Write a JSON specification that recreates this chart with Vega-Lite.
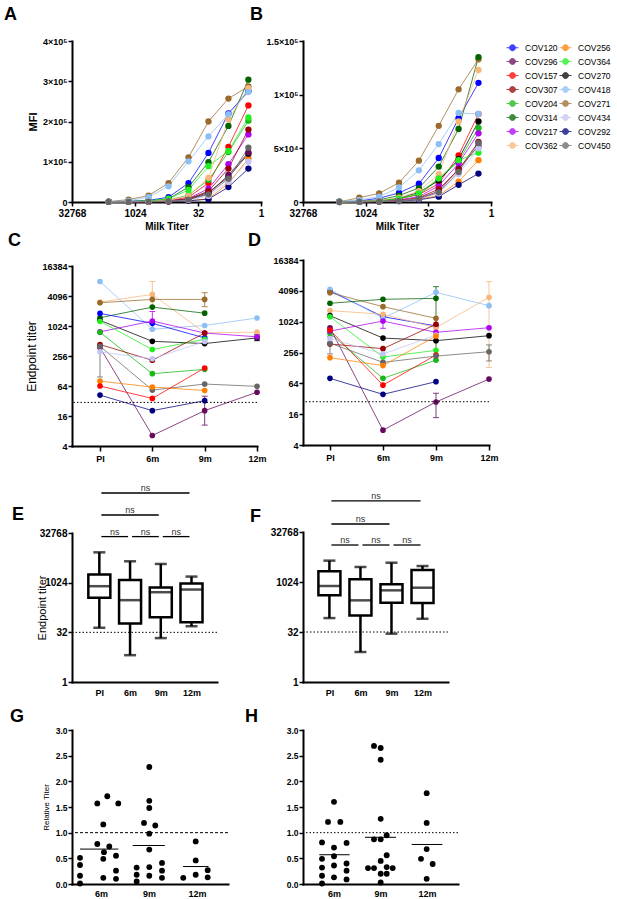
{
"$schema":"https://vega.github.io/schema/vega-lite/v6.json",
"background":"white",
"padding":{"left":4,"top":6,"right":0,"bottom":0},
"bounds":"flush",
"columns":2,
"spacing":{"row":48,"column":42},
"concat":[
   {"width":189,"height":161,"title":{"text":"A","dx":-68,"offset":13},"data":{"name":"A"},
    "encoding":{
     "x":{"field":"d","type":"quantitative","scale":{"type":"log","base":2,"domain":[1,32768],"reverse":true},"axis":{"values":[32768,1024,32,1],"format":"d","title":"Milk Titer","titleFontSize":10,"titleFontWeight":"bold","titlePadding":3,"labelFontSize":10}},
     "y":{"field":"m","type":"quantitative","scale":{"domain":[0,400000],"nice":false},"axis":{"values":[0,100000,200000,300000,400000],"labelExpr":"datum.value==0?'0':format(datum.value/100000,'d')+'×10⁵'","title":"MFI","titleFontSize":11,"titleFontWeight":"bold","titlePadding":4,"labelPadding":1}},
     "color":{"field":"id","type":"nominal",
      "scale":{"domain":["COV120","COV296","COV157","COV307","COV204","COV314","COV217","COV362","COV256","COV364","COV270","COV418","COV271","COV434","COV292","COV450"],
               "range":["#0000ff","#650a5c","#ff0000","#990000","#17b817","#006400","#b000f0","#f7b77a","#ff7f00","#22ee22","#000000","#8cbff5","#9a6a2c","#c4c4f5","#000080","#666666"]},
      "legend":{"title":null,"orient":"right","columns":2,"offset":7,"padding":0,"symbolType":"M-1,0H1M0.5,0A0.5,0.5,0,1,1,-0.5,0A0.5,0.5,0,1,1,0.5,0Z","symbolSize":144,"symbolStrokeWidth":1,"labelFont":"Liberation Sans","labelFontSize":8.5,"labelColor":"black","labelOffset":6,"rowPadding":2,"columnPadding":-1,
       "encode":{"symbols":{"update":{"fill":{"scale":"color","field":"value"},"stroke":{"scale":"color","field":"value"},"opacity":{"value":1}}}}}}
    },
    "layer":[
     {"mark":{"type":"line","strokeWidth":1,"opacity":0.75}},
     {"mark":{"type":"circle","size":40,"opacity":1}}
    ]},
   {"width":188,"height":161,"title":{"text":"B","dx":-53,"offset":13},"data":{"name":"B"},
    "encoding":{
     "x":{"field":"d","type":"quantitative","scale":{"type":"log","base":2,"domain":[1,32768],"reverse":true},"axis":{"values":[32768,1024,32,1],"format":"d","title":"Milk Titer","titleFontSize":10,"titleFontWeight":"bold","titlePadding":3,"labelFontSize":10}},
     "y":{"field":"m","type":"quantitative","scale":{"domain":[0,150000],"nice":false},"axis":{"values":[0,50000,100000,150000],"labelExpr":"datum.value==0?'0':datum.value==50000?'5×10⁴':datum.value==100000?'1×10⁵':'1.5×10⁵'","title":null,"labelPadding":1}},
     "color":{"field":"id","type":"nominal"}
    },
    "layer":[
     {"mark":{"type":"line","strokeWidth":1,"opacity":0.75}},
     {"mark":{"type":"circle","size":40,"opacity":1}}
    ]},
   {"width":185,"height":196,"title":{"text":"C","dx":-64,"offset":0},
    "layer":[
     {"data":{"name":"C"},"mark":{"type":"line","strokeWidth":1,"opacity":0.75},
      "encoding":{"x":{"field":"t","type":"quantitative","scale":{"domain":[-0.535,3],"nice":false,"zero":false},"axis":{"values":[0,1,2,3],"labelExpr":"['PI','6m','9m','12m'][datum.value]","title":null,"tickSize":5,"labelPadding":3}},
       "y":{"field":"v","type":"quantitative","scale":{"type":"log","base":2,"domain":[4,16384],"nice":false,"range":[196,16]},"axis":{"values":[4,16,64,256,1024,4096,16384],"format":"d","title":"Endpoint titer","titleFontSize":12,"titleFontWeight":"normal","titlePadding":3,"labelPadding":1}},
       "color":{"field":"id","type":"nominal"}}},
     {"data":{"name":"Cerr"},"mark":{"type":"rule","strokeWidth":1,"opacity":0.8},
      "encoding":{"x":{"field":"t","type":"quantitative"},"y":{"field":"lo","type":"quantitative"},"y2":{"field":"hi"},"color":{"field":"id","type":"nominal"}}},
     {"data":{"name":"Cerr"},"mark":{"type":"tick","orient":"horizontal","size":6,"thickness":1,"opacity":0.8},
      "encoding":{"x":{"field":"t","type":"quantitative"},"y":{"field":"hi","type":"quantitative"},"color":{"field":"id","type":"nominal"}}},
     {"data":{"name":"Cerr"},"mark":{"type":"tick","orient":"horizontal","size":6,"thickness":1,"opacity":0.8},
      "encoding":{"x":{"field":"t","type":"quantitative"},"y":{"field":"lo","type":"quantitative"},"color":{"field":"id","type":"nominal"}}},
     {"data":{"name":"C"},"mark":{"type":"circle","size":32,"opacity":1},
      "encoding":{"x":{"field":"t","type":"quantitative"},"y":{"field":"v","type":"quantitative"},"color":{"field":"id","type":"nominal"}}},
     {"data":{"values":[{"lod":30}]},"mark":{"type":"rule","color":"black","strokeWidth":1,"strokeDash":[1.5,2]},
      "encoding":{"y":{"field":"lod","type":"quantitative"}}}
    ]},
   {"width":186,"height":195,"title":{"text":"D","dx":-55,"offset":0},
    "layer":[
     {"data":{"name":"D"},"mark":{"type":"line","strokeWidth":1,"opacity":0.75},
      "encoding":{"x":{"field":"t","type":"quantitative","scale":{"domain":[-0.509,3],"nice":false,"zero":false},"axis":{"values":[0,1,2,3],"labelExpr":"['PI','6m','9m','12m'][datum.value]","title":null,"tickSize":5,"labelPadding":3}},
       "y":{"field":"v","type":"quantitative","scale":{"type":"log","base":2,"domain":[4,16384],"nice":false,"range":[195,10]},"axis":{"values":[4,16,64,256,1024,4096,16384],"format":"d","title":null,"labelPadding":1}},
       "color":{"field":"id","type":"nominal"}}},
     {"data":{"name":"Derr"},"mark":{"type":"rule","strokeWidth":1,"opacity":0.8},
      "encoding":{"x":{"field":"t","type":"quantitative"},"y":{"field":"lo","type":"quantitative"},"y2":{"field":"hi"},"color":{"field":"id","type":"nominal"}}},
     {"data":{"name":"Derr"},"mark":{"type":"tick","orient":"horizontal","size":6,"thickness":1,"opacity":0.8},
      "encoding":{"x":{"field":"t","type":"quantitative"},"y":{"field":"hi","type":"quantitative"},"color":{"field":"id","type":"nominal"}}},
     {"data":{"name":"Derr"},"mark":{"type":"tick","orient":"horizontal","size":6,"thickness":1,"opacity":0.8},
      "encoding":{"x":{"field":"t","type":"quantitative"},"y":{"field":"lo","type":"quantitative"},"color":{"field":"id","type":"nominal"}}},
     {"data":{"name":"D"},"mark":{"type":"circle","size":32,"opacity":1},
      "encoding":{"x":{"field":"t","type":"quantitative"},"y":{"field":"v","type":"quantitative"},"color":{"field":"id","type":"nominal"}}},
     {"data":{"values":[{"lod":28}]},"mark":{"type":"rule","color":"black","strokeWidth":1,"strokeDash":[1.5,2]},
      "encoding":{"y":{"field":"lod","type":"quantitative"}}}
    ]},
   {"width":145,"height":188,"title":{"text":"E","dx":-60,"offset":-40},
    "layer":[
     {"data":{"name":"E"},"mark":{"type":"rule","strokeWidth":2.5,"color":"black"},
      "encoding":{"x":{"field":"t","type":"quantitative","scale":{"domain":[-0.727,3.667],"nice":false,"zero":false},"axis":{"values":[0,1,2,3],"labelExpr":"['PI','6m','9m','12m'][datum.value]","title":null,"ticks":false,"labelPadding":6}},
       "y":{"field":"lo","type":"quantitative","scale":{"type":"log","base":2,"domain":[1,32768],"nice":false,"range":[188,39]},"axis":{"values":[1,32,1024,32768],"format":"d","title":"Endpoint titer","titleFontSize":11,"titleFontWeight":"normal","titlePadding":-8,"labelFontSize":10,"labelPadding":1}},
       "y2":{"field":"hi"}}},
     {"data":{"name":"E"},"mark":{"type":"tick","orient":"horizontal","size":12,"thickness":2.5,"color":"black"},
      "encoding":{"x":{"field":"t","type":"quantitative"},"y":{"field":"lo","type":"quantitative"}}},
     {"data":{"name":"E"},"mark":{"type":"tick","orient":"horizontal","size":12,"thickness":2.5,"color":"black"},
      "encoding":{"x":{"field":"t","type":"quantitative"},"y":{"field":"hi","type":"quantitative"}}},
     {"data":{"name":"E"},"mark":{"type":"bar","width":22,"fill":"white","stroke":"black","strokeWidth":2.5},
      "encoding":{"x":{"field":"t","type":"quantitative"},"y":{"field":"q1","type":"quantitative"},"y2":{"field":"q3"}}},
     {"data":{"name":"E"},"mark":{"type":"tick","orient":"horizontal","size":22,"thickness":2.5,"color":"black"},
      "encoding":{"x":{"field":"t","type":"quantitative"},"y":{"field":"med","type":"quantitative"}}},
     {"data":{"values":[{"lod":32}]},"mark":{"type":"rule","color":"black","strokeWidth":1,"strokeDash":[1.5,2]},
      "encoding":{"y":{"field":"lod","type":"quantitative"}}},
     {"data":{"name":"Ebr"},"mark":{"type":"rule","color":"black","strokeWidth":1.3,"xOffset":2,"x2Offset":-2},
      "encoding":{"x":{"field":"a","type":"quantitative"},"x2":{"field":"b"},"y":{"field":"y","type":"quantitative"}}},
     {"data":{"name":"Ebr"},"mark":{"type":"text","fontSize":9,"color":"#333333","font":"Liberation Sans","baseline":"alphabetic","dy":-2},
      "encoding":{"x":{"field":"m","type":"quantitative"},"y":{"field":"y","type":"quantitative"},"text":{"field":"lab"}}}
    ]},
   {"width":145,"height":188,"title":{"text":"F","dx":-53,"offset":-34},
    "layer":[
     {"data":{"name":"F"},"mark":{"type":"rule","strokeWidth":2.5,"color":"black"},
      "encoding":{"x":{"field":"t","type":"quantitative","scale":{"domain":[-0.69,3.66],"nice":false,"zero":false},"axis":{"values":[0,1,2,3],"labelExpr":"['PI','6m','9m','12m'][datum.value]","title":null,"ticks":false,"labelPadding":6}},
       "y":{"field":"lo","type":"quantitative","scale":{"type":"log","base":2,"domain":[1,32768],"nice":false,"range":[188,38]},"axis":{"values":[1,32,1024,32768],"format":"d","title":null,"labelFontSize":10,"labelPadding":1}},
       "y2":{"field":"hi"}}},
     {"data":{"name":"F"},"mark":{"type":"tick","orient":"horizontal","size":12,"thickness":2.5,"color":"black"},
      "encoding":{"x":{"field":"t","type":"quantitative"},"y":{"field":"lo","type":"quantitative"}}},
     {"data":{"name":"F"},"mark":{"type":"tick","orient":"horizontal","size":12,"thickness":2.5,"color":"black"},
      "encoding":{"x":{"field":"t","type":"quantitative"},"y":{"field":"hi","type":"quantitative"}}},
     {"data":{"name":"F"},"mark":{"type":"bar","width":22,"fill":"white","stroke":"black","strokeWidth":2.5},
      "encoding":{"x":{"field":"t","type":"quantitative"},"y":{"field":"q1","type":"quantitative"},"y2":{"field":"q3"}}},
     {"data":{"name":"F"},"mark":{"type":"tick","orient":"horizontal","size":22,"thickness":2.5,"color":"black"},
      "encoding":{"x":{"field":"t","type":"quantitative"},"y":{"field":"med","type":"quantitative"}}},
     {"data":{"values":[{"lod":32}]},"mark":{"type":"rule","color":"black","strokeWidth":1,"strokeDash":[1.5,2]},
      "encoding":{"y":{"field":"lod","type":"quantitative"}}},
     {"data":{"name":"Fbr"},"mark":{"type":"rule","color":"black","strokeWidth":1.3,"xOffset":2,"x2Offset":-2},
      "encoding":{"x":{"field":"a","type":"quantitative"},"x2":{"field":"b"},"y":{"field":"y","type":"quantitative"}}},
     {"data":{"name":"Fbr"},"mark":{"type":"text","fontSize":9,"color":"#333333","font":"Liberation Sans","baseline":"alphabetic","dy":-2},
      "encoding":{"x":{"field":"m","type":"quantitative"},"y":{"field":"y","type":"quantitative"},"text":{"field":"lab"}}}
    ]},
   {"width":156,"height":154,"title":{"text":"G","dx":-62,"offset":0},
    "layer":[
     {"data":{"name":"G"},"mark":{"type":"circle","size":34,"color":"black","opacity":1},
      "encoding":{"x":{"field":"x","type":"quantitative","scale":{"domain":[0.396,3.646],"nice":false,"zero":false},"axis":{"values":[1,2,3],"labelExpr":"datum.value==1?'6m':datum.value==2?'9m':'12m'","title":null,"ticks":false,"labelPadding":5}},
       "y":{"field":"v","type":"quantitative","scale":{"domain":[0,3],"nice":false},"axis":{"tickCount":6,"tickMinStep":0.5,"format":".1f","labelOverlap":false,"labelSeparation":0,"title":"Relative Titer","titleFontSize":8,"titleFontWeight":"normal","titlePadding":5,"labelFontSize":8.5,"labelPadding":1}}}},
     {"data":{"values":[{"ref":1}]},"mark":{"type":"rule","color":"black","strokeWidth":1,"strokeDash":[3,2]},
      "encoding":{"y":{"field":"ref","type":"quantitative"}}},
     {"data":{"name":"Gm"},"mark":{"type":"rule","color":"black","strokeWidth":1},
      "encoding":{"x":{"field":"a","type":"quantitative"},"x2":{"field":"b"},"y":{"field":"mean","type":"quantitative"}}}
    ]},
   {"width":155,"height":154,"title":{"text":"H","dx":-58,"offset":0},
    "layer":[
     {"data":{"name":"H"},"mark":{"type":"circle","size":34,"color":"black","opacity":1},
      "encoding":{"x":{"field":"x","type":"quantitative","scale":{"domain":[0.333,3.667],"nice":false,"zero":false},"axis":{"values":[1,2,3],"labelExpr":"datum.value==1?'6m':datum.value==2?'9m':'12m'","title":null,"ticks":false,"labelPadding":5}},
       "y":{"field":"v","type":"quantitative","scale":{"domain":[0,3],"nice":false},"axis":{"tickCount":6,"tickMinStep":0.5,"format":".1f","labelOverlap":false,"labelSeparation":0,"title":null,"labelFontSize":8.5,"labelPadding":1}}}},
     {"data":{"values":[{"ref":1}]},"mark":{"type":"rule","color":"black","strokeWidth":1,"strokeDash":[1.5,2]},
      "encoding":{"y":{"field":"ref","type":"quantitative"}}},
     {"data":{"name":"Hm"},"mark":{"type":"rule","color":"black","strokeWidth":1},
      "encoding":{"x":{"field":"a","type":"quantitative"},"x2":{"field":"b"},"y":{"field":"mean","type":"quantitative"}}}
    ]}
],
"datasets":{
"A":[
{"id":"COV120","d":4374,"m":1000},{"id":"COV120","d":1458,"m":2000},{"id":"COV120","d":486,"m":4000},{"id":"COV120","d":162,"m":12000},{"id":"COV120","d":54,"m":47000},{"id":"COV120","d":18,"m":122000},{"id":"COV120","d":6,"m":220000},{"id":"COV120","d":2,"m":276000},
{"id":"COV157","d":4374,"m":300},{"id":"COV157","d":1458,"m":500},{"id":"COV157","d":486,"m":1000},{"id":"COV157","d":162,"m":3000},{"id":"COV157","d":54,"m":12000},{"id":"COV157","d":18,"m":47000},{"id":"COV157","d":6,"m":137000},{"id":"COV157","d":2,"m":240000},
{"id":"COV204","d":4374,"m":300},{"id":"COV204","d":1458,"m":1000},{"id":"COV204","d":486,"m":2000},{"id":"COV204","d":162,"m":5000},{"id":"COV204","d":54,"m":17000},{"id":"COV204","d":18,"m":55000},{"id":"COV204","d":6,"m":124000},{"id":"COV204","d":2,"m":202000},
{"id":"COV217","d":4374,"m":200},{"id":"COV217","d":1458,"m":500},{"id":"COV217","d":486,"m":1000},{"id":"COV217","d":162,"m":2000},{"id":"COV217","d":54,"m":9000},{"id":"COV217","d":18,"m":33000},{"id":"COV217","d":6,"m":94000},{"id":"COV217","d":2,"m":168000},
{"id":"COV256","d":4374,"m":100},{"id":"COV256","d":1458,"m":300},{"id":"COV256","d":486,"m":500},{"id":"COV256","d":162,"m":1000},{"id":"COV256","d":54,"m":3000},{"id":"COV256","d":18,"m":8000},{"id":"COV256","d":6,"m":46000},{"id":"COV256","d":2,"m":108000},
{"id":"COV270","d":4374,"m":200},{"id":"COV270","d":1458,"m":500},{"id":"COV270","d":486,"m":1000},{"id":"COV270","d":162,"m":2000},{"id":"COV270","d":54,"m":7000},{"id":"COV270","d":18,"m":24000},{"id":"COV270","d":6,"m":62000},{"id":"COV270","d":2,"m":120000},
{"id":"COV271","d":4374,"m":1000},{"id":"COV271","d":1458,"m":6000},{"id":"COV271","d":486,"m":16000},{"id":"COV271","d":162,"m":47000},{"id":"COV271","d":54,"m":111000},{"id":"COV271","d":18,"m":200000},{"id":"COV271","d":6,"m":257000},{"id":"COV271","d":2,"m":287000},
{"id":"COV292","d":4374,"m":100},{"id":"COV292","d":1458,"m":300},{"id":"COV292","d":486,"m":500},{"id":"COV292","d":162,"m":1000},{"id":"COV292","d":54,"m":3000},{"id":"COV292","d":18,"m":7000},{"id":"COV292","d":6,"m":37000},{"id":"COV292","d":2,"m":83000},
{"id":"COV296","d":4374,"m":200},{"id":"COV296","d":1458,"m":500},{"id":"COV296","d":486,"m":1000},{"id":"COV296","d":162,"m":2000},{"id":"COV296","d":54,"m":6000},{"id":"COV296","d":18,"m":21000},{"id":"COV296","d":6,"m":67000},{"id":"COV296","d":2,"m":123000},
{"id":"COV307","d":4374,"m":200},{"id":"COV307","d":1458,"m":500},{"id":"COV307","d":486,"m":1000},{"id":"COV307","d":162,"m":2000},{"id":"COV307","d":54,"m":8000},{"id":"COV307","d":18,"m":27000},{"id":"COV307","d":6,"m":83000},{"id":"COV307","d":2,"m":180000},
{"id":"COV314","d":4374,"m":500},{"id":"COV314","d":1458,"m":1000},{"id":"COV314","d":486,"m":3000},{"id":"COV314","d":162,"m":8000},{"id":"COV314","d":54,"m":37000},{"id":"COV314","d":18,"m":99000},{"id":"COV314","d":6,"m":189000},{"id":"COV314","d":2,"m":304000},
{"id":"COV362","d":4374,"m":300},{"id":"COV362","d":1458,"m":1000},{"id":"COV362","d":486,"m":2000},{"id":"COV362","d":162,"m":5000},{"id":"COV362","d":54,"m":15000},{"id":"COV362","d":18,"m":60000},{"id":"COV362","d":6,"m":205000},{"id":"COV362","d":2,"m":283000},
{"id":"COV364","d":4374,"m":500},{"id":"COV364","d":1458,"m":1000},{"id":"COV364","d":486,"m":3000},{"id":"COV364","d":162,"m":8000},{"id":"COV364","d":54,"m":30000},{"id":"COV364","d":18,"m":89000},{"id":"COV364","d":6,"m":127000},{"id":"COV364","d":2,"m":210000},
{"id":"COV418","d":4374,"m":1000},{"id":"COV418","d":1458,"m":3000},{"id":"COV418","d":486,"m":12000},{"id":"COV418","d":162,"m":39000},{"id":"COV418","d":54,"m":101000},{"id":"COV418","d":18,"m":163000},{"id":"COV418","d":6,"m":218000},{"id":"COV418","d":2,"m":273000},
{"id":"COV434","d":4374,"m":200},{"id":"COV434","d":1458,"m":500},{"id":"COV434","d":486,"m":1000},{"id":"COV434","d":162,"m":2000},{"id":"COV434","d":54,"m":5000},{"id":"COV434","d":18,"m":15000},{"id":"COV434","d":6,"m":50000},{"id":"COV434","d":2,"m":100000},
{"id":"COV450","d":4374,"m":200},{"id":"COV450","d":1458,"m":500},{"id":"COV450","d":486,"m":1000},{"id":"COV450","d":162,"m":2000},{"id":"COV450","d":54,"m":6000},{"id":"COV450","d":18,"m":19000},{"id":"COV450","d":6,"m":58000},{"id":"COV450","d":2,"m":135000}
],
"B":[
{"id":"COV120","d":4374,"m":300},{"id":"COV120","d":1458,"m":1000},{"id":"COV120","d":486,"m":3500},{"id":"COV120","d":162,"m":8500},{"id":"COV120","d":54,"m":17000},{"id":"COV120","d":18,"m":41000},{"id":"COV120","d":6,"m":78000},{"id":"COV120","d":2,"m":111000},
{"id":"COV157","d":4374,"m":100},{"id":"COV157","d":1458,"m":300},{"id":"COV157","d":486,"m":1000},{"id":"COV157","d":162,"m":3000},{"id":"COV157","d":54,"m":7000},{"id":"COV157","d":18,"m":17000},{"id":"COV157","d":6,"m":43500},{"id":"COV157","d":2,"m":82000},
{"id":"COV204","d":4374,"m":100},{"id":"COV204","d":1458,"m":300},{"id":"COV204","d":486,"m":1000},{"id":"COV204","d":162,"m":3000},{"id":"COV204","d":54,"m":7000},{"id":"COV204","d":18,"m":21000},{"id":"COV204","d":6,"m":38000},{"id":"COV204","d":2,"m":69000},
{"id":"COV217","d":4374,"m":100},{"id":"COV217","d":1458,"m":200},{"id":"COV217","d":486,"m":600},{"id":"COV217","d":162,"m":2000},{"id":"COV217","d":54,"m":5000},{"id":"COV217","d":18,"m":15000},{"id":"COV217","d":6,"m":36000},{"id":"COV217","d":2,"m":64000},
{"id":"COV256","d":4374,"m":0},{"id":"COV256","d":1458,"m":100},{"id":"COV256","d":486,"m":300},{"id":"COV256","d":162,"m":1000},{"id":"COV256","d":54,"m":2500},{"id":"COV256","d":18,"m":6000},{"id":"COV256","d":6,"m":19000},{"id":"COV256","d":2,"m":39000},
{"id":"COV270","d":4374,"m":100},{"id":"COV270","d":1458,"m":300},{"id":"COV270","d":486,"m":1000},{"id":"COV270","d":162,"m":3500},{"id":"COV270","d":54,"m":9000},{"id":"COV270","d":18,"m":20000},{"id":"COV270","d":6,"m":40000},{"id":"COV270","d":2,"m":75000},
{"id":"COV271","d":4374,"m":200},{"id":"COV271","d":1458,"m":4000},{"id":"COV271","d":486,"m":8000},{"id":"COV271","d":162,"m":18000},{"id":"COV271","d":54,"m":38500},{"id":"COV271","d":18,"m":71000},{"id":"COV271","d":6,"m":105000},{"id":"COV271","d":2,"m":133000},
{"id":"COV292","d":4374,"m":0},{"id":"COV292","d":1458,"m":100},{"id":"COV292","d":486,"m":300},{"id":"COV292","d":162,"m":800},{"id":"COV292","d":54,"m":2000},{"id":"COV292","d":18,"m":5000},{"id":"COV292","d":6,"m":16000},{"id":"COV292","d":2,"m":26500},
{"id":"COV296","d":4374,"m":100},{"id":"COV296","d":1458,"m":200},{"id":"COV296","d":486,"m":500},{"id":"COV296","d":162,"m":1200},{"id":"COV296","d":54,"m":3500},{"id":"COV296","d":18,"m":10000},{"id":"COV296","d":6,"m":31000},{"id":"COV296","d":2,"m":52000},
{"id":"COV307","d":4374,"m":100},{"id":"COV307","d":1458,"m":200},{"id":"COV307","d":486,"m":500},{"id":"COV307","d":162,"m":1500},{"id":"COV307","d":54,"m":4000},{"id":"COV307","d":18,"m":12000},{"id":"COV307","d":6,"m":30000},{"id":"COV307","d":2,"m":56000},
{"id":"COV314","d":4374,"m":200},{"id":"COV314","d":1458,"m":500},{"id":"COV314","d":486,"m":2000},{"id":"COV314","d":162,"m":6000},{"id":"COV314","d":54,"m":13000},{"id":"COV314","d":18,"m":33000},{"id":"COV314","d":6,"m":68000},{"id":"COV314","d":2,"m":135000},
{"id":"COV362","d":4374,"m":200},{"id":"COV362","d":1458,"m":500},{"id":"COV362","d":486,"m":1500},{"id":"COV362","d":162,"m":4000},{"id":"COV362","d":54,"m":10000},{"id":"COV362","d":18,"m":26000},{"id":"COV362","d":6,"m":75000},{"id":"COV362","d":2,"m":123000},
{"id":"COV364","d":4374,"m":100},{"id":"COV364","d":1458,"m":300},{"id":"COV364","d":486,"m":1000},{"id":"COV364","d":162,"m":3000},{"id":"COV364","d":54,"m":8000},{"id":"COV364","d":18,"m":22000},{"id":"COV364","d":6,"m":39000},{"id":"COV364","d":2,"m":46000},
{"id":"COV418","d":4374,"m":300},{"id":"COV418","d":1458,"m":2000},{"id":"COV418","d":486,"m":5000},{"id":"COV418","d":162,"m":13500},{"id":"COV418","d":54,"m":29500},{"id":"COV418","d":18,"m":54000},{"id":"COV418","d":6,"m":83000},{"id":"COV418","d":2,"m":82000},
{"id":"COV434","d":4374,"m":100},{"id":"COV434","d":1458,"m":200},{"id":"COV434","d":486,"m":500},{"id":"COV434","d":162,"m":1000},{"id":"COV434","d":54,"m":3000},{"id":"COV434","d":18,"m":8000},{"id":"COV434","d":6,"m":26000},{"id":"COV434","d":2,"m":50000},
{"id":"COV450","d":4374,"m":100},{"id":"COV450","d":1458,"m":200},{"id":"COV450","d":486,"m":500},{"id":"COV450","d":162,"m":1000},{"id":"COV450","d":54,"m":3000},{"id":"COV450","d":18,"m":9000},{"id":"COV450","d":6,"m":28000},{"id":"COV450","d":2,"m":55000}
],
"C":[
{"id":"COV418","t":0,"v":8000},{"id":"COV418","t":1,"v":880},{"id":"COV418","t":2,"v":1050},{"id":"COV418","t":3,"v":1480},
{"id":"COV362","t":0,"v":3100},{"id":"COV362","t":1,"v":4400},{"id":"COV362","t":2,"v":750},{"id":"COV362","t":3,"v":770},
{"id":"COV271","t":0,"v":3000},{"id":"COV271","t":1,"v":3500},{"id":"COV271","t":2,"v":3500},
{"id":"COV314","t":0,"v":1500},{"id":"COV314","t":1,"v":2450},{"id":"COV314","t":2,"v":1850},
{"id":"COV120","t":0,"v":1830},{"id":"COV120","t":1,"v":1160},{"id":"COV120","t":2,"v":590},
{"id":"COV270","t":0,"v":1330},{"id":"COV270","t":1,"v":505},{"id":"COV270","t":2,"v":455},{"id":"COV270","t":3,"v":590},
{"id":"COV217","t":0,"v":780},{"id":"COV217","t":1,"v":1290},{"id":"COV217","t":2,"v":740},{"id":"COV217","t":3,"v":620},
{"id":"COV364","t":0,"v":1270},{"id":"COV364","t":1,"v":345},{"id":"COV364","t":2,"v":555},
{"id":"COV204","t":0,"v":765},{"id":"COV204","t":1,"v":113},{"id":"COV204","t":2,"v":138},
{"id":"COV307","t":0,"v":435},{"id":"COV307","t":1,"v":210},{"id":"COV307","t":2,"v":740},
{"id":"COV296","t":0,"v":380},{"id":"COV296","t":1,"v":6.5},{"id":"COV296","t":2,"v":20.5},{"id":"COV296","t":3,"v":48},
{"id":"COV450","t":0,"v":400},{"id":"COV450","t":1,"v":53},{"id":"COV450","t":2,"v":70},{"id":"COV450","t":3,"v":63},
{"id":"COV434","t":0,"v":310},{"id":"COV434","t":1,"v":225},{"id":"COV434","t":2,"v":500},
{"id":"COV256","t":0,"v":80},{"id":"COV256","t":1,"v":61},{"id":"COV256","t":2,"v":52},
{"id":"COV157","t":0,"v":64},{"id":"COV157","t":1,"v":36},{"id":"COV157","t":2,"v":147},
{"id":"COV292","t":0,"v":42},{"id":"COV292","t":1,"v":20.5},{"id":"COV292","t":2,"v":32.5}
],
"Cerr":[
{"id":"COV362","t":1,"lo":2600,"hi":8000},{"id":"COV271","t":2,"lo":2500,"hi":4770},{"id":"COV296","t":2,"lo":10.5,"hi":40},{"id":"COV450","t":0,"lo":97,"hi":420},{"id":"COV217","t":1,"lo":900,"hi":2000},{"id":"COV270","t":3,"lo":520,"hi":680}
],
"D":[
{"id":"COV120","t":0,"v":4070},{"id":"COV120","t":1,"v":1280},{"id":"COV120","t":2,"v":845},
{"id":"COV418","t":0,"v":4380},{"id":"COV418","t":1,"v":1190},{"id":"COV418","t":2,"v":3830},{"id":"COV418","t":3,"v":2100},
{"id":"COV271","t":0,"v":3770},{"id":"COV271","t":1,"v":2010},{"id":"COV271","t":2,"v":1190},
{"id":"COV314","t":0,"v":2340},{"id":"COV314","t":1,"v":2800},{"id":"COV314","t":2,"v":2920},
{"id":"COV362","t":0,"v":1680},{"id":"COV362","t":1,"v":1430},{"id":"COV362","t":2,"v":780},{"id":"COV362","t":3,"v":3060},
{"id":"COV270","t":0,"v":1340},{"id":"COV270","t":1,"v":490},{"id":"COV270","t":2,"v":436},{"id":"COV270","t":3,"v":545},
{"id":"COV364","t":0,"v":1280},{"id":"COV364","t":1,"v":209},{"id":"COV364","t":2,"v":282},
{"id":"COV204","t":0,"v":604},{"id":"COV204","t":1,"v":80},{"id":"COV204","t":2,"v":182},
{"id":"COV217","t":0,"v":671},{"id":"COV217","t":1,"v":1053},{"id":"COV217","t":2,"v":635},{"id":"COV217","t":3,"v":780},
{"id":"COV296","t":0,"v":780},{"id":"COV296","t":1,"v":7.8},{"id":"COV296","t":2,"v":27.7},{"id":"COV296","t":3,"v":77.6},
{"id":"COV307","t":0,"v":375},{"id":"COV307","t":1,"v":304},{"id":"COV307","t":2,"v":910},
{"id":"COV157","t":0,"v":704},{"id":"COV157","t":1,"v":59},{"id":"COV157","t":2,"v":229},
{"id":"COV450","t":0,"v":390},{"id":"COV450","t":1,"v":164},{"id":"COV450","t":2,"v":218},{"id":"COV450","t":3,"v":265},
{"id":"COV434","t":0,"v":480},{"id":"COV434","t":1,"v":239},{"id":"COV434","t":2,"v":561},
{"id":"COV256","t":0,"v":203},{"id":"COV256","t":1,"v":142},{"id":"COV256","t":2,"v":537},
{"id":"COV292","t":0,"v":80},{"id":"COV292","t":1,"v":39},{"id":"COV292","t":2,"v":69}
],
"Derr":[
{"id":"COV314","t":2,"lo":180,"hi":4940},{"id":"COV362","t":3,"lo":130,"hi":6200},{"id":"COV296","t":2,"lo":13.7,"hi":41},{"id":"COV450","t":3,"lo":175,"hi":360},{"id":"COV217","t":1,"lo":760,"hi":1400},{"id":"COV450","t":0,"lo":240,"hi":520}
],
"E":[
{"t":0,"lo":44,"q1":355,"med":800,"q3":1800,"hi":8500},
{"t":1,"lo":6.5,"q1":59,"med":302,"q3":1240,"hi":4550},
{"t":2,"lo":21.4,"q1":92,"med":526,"q3":728,"hi":3780},
{"t":3,"lo":49,"q1":65,"med":634,"q3":962,"hi":1565}
],
"F":[
{"t":0,"lo":84,"q1":406,"med":776,"q3":2140,"hi":4500},
{"t":1,"lo":8,"q1":101,"med":287,"q3":1230,"hi":2900},
{"t":2,"lo":28.5,"q1":244,"med":574,"q3":872,"hi":3900},
{"t":3,"lo":80,"q1":239,"med":690,"q3":2350,"hi":3100}
],
"Ebr":[
{"a":0,"b":1,"m":0.5,"y":25500,"lab":"ns"},{"a":1,"b":2,"m":1.5,"y":25500,"lab":"ns"},{"a":2,"b":3,"m":2.5,"y":25500,"lab":"ns"},{"a":0,"b":2,"m":1,"y":115000,"lab":"ns"},{"a":0,"b":3,"m":1.5,"y":535000,"lab":"ns"}
],
"Fbr":[
{"a":0,"b":1,"m":0.5,"y":13300,"lab":"ns"},{"a":1,"b":2,"m":1.5,"y":13300,"lab":"ns"},{"a":2,"b":3,"m":2.5,"y":13300,"lab":"ns"},{"a":0,"b":2,"m":1,"y":57000,"lab":"ns"},{"a":0,"b":3,"m":1.5,"y":285000,"lab":"ns"}
],
"G":[
{"x":1.131,"v":1.71},{"x":0.923,"v":1.57},{"x":1.36,"v":1.57},{"x":1.048,"v":1.16},{"x":0.923,"v":0.78},{"x":1.173,"v":0.73},{"x":0.563,"v":0.51},{"x":1.062,"v":0.62},{"x":1.313,"v":0.55},{"x":1.048,"v":0.49},{"x":0.563,"v":0.37},{"x":1.313,"v":0.26},{"x":0.563,"v":0.16},{"x":1.048,"v":0.12},{"x":1.313,"v":0.10},{"x":0.563,"v":0.01},
{"x":2.006,"v":2.28},{"x":2.006,"v":1.62},{"x":2.006,"v":1.48},{"x":1.896,"v":1.19},{"x":2.131,"v":1.14},{"x":2.006,"v":0.98},{"x":2.006,"v":0.67},{"x":1.743,"v":0.32},{"x":2.006,"v":0.33},{"x":2.271,"v":0.41},{"x":1.743,"v":0.18},{"x":2.006,"v":0.16},{"x":2.271,"v":0.26},{"x":1.743,"v":0.05},{"x":2.271,"v":0.12},
{"x":2.973,"v":0.83},{"x":2.973,"v":0.46},{"x":2.714,"v":0.12},{"x":2.973,"v":0.18},{"x":3.223,"v":0.27},{"x":3.223,"v":0.13}
],
"Gm":[{"a":0.563,"b":1.36,"mean":0.68},{"a":1.66,"b":2.33,"mean":0.75},{"a":2.71,"b":3.24,"mean":0.34}],
"H":[
{"x":1.0,"v":1.60},{"x":0.871,"v":1.21},{"x":1.136,"v":1.21},{"x":0.742,"v":0.81},{"x":1.27,"v":0.80},{"x":1.0,"v":0.71},{"x":0.742,"v":0.49},{"x":1.0,"v":0.54},{"x":0.742,"v":0.32},{"x":1.0,"v":0.36},{"x":1.27,"v":0.40},{"x":1.27,"v":0.26},{"x":0.742,"v":0.16},{"x":1.0,"v":0.13},{"x":1.27,"v":0.09},{"x":0.742,"v":0.01},
{"x":1.86,"v":2.69},{"x":2.004,"v":2.65},{"x":2.004,"v":2.42},{"x":2.004,"v":1.27},{"x":2.133,"v":0.95},{"x":1.86,"v":0.87},{"x":2.004,"v":0.87},{"x":2.004,"v":0.45},{"x":2.133,"v":0.56},{"x":1.731,"v":0.31},{"x":1.86,"v":0.31},{"x":2.133,"v":0.33},{"x":2.262,"v":0.31},{"x":2.004,"v":0.20},{"x":2.133,"v":0.20},{"x":2.004,"v":0.03},
{"x":2.993,"v":1.77},{"x":2.993,"v":1.19},{"x":2.993,"v":0.68},{"x":2.871,"v":0.49},{"x":3.122,"v":0.39},{"x":2.993,"v":0.10}
],
"Hm":[{"a":0.684,"b":1.337,"mean":0.57},{"a":1.666,"b":2.333,"mean":0.91},{"a":2.67,"b":3.33,"mean":0.77}]
},
"config":{
 "view":{"stroke":null},
 "font":"Liberation Sans",
 "axis":{"domainColor":"black","domainWidth":2,"domainCap":"square","tickColor":"black","tickWidth":1.5,"tickSize":4,"labelFont":"Liberation Sans","labelFontWeight":"bold","labelFontSize":9,"labelColor":"black","titleFont":"Liberation Sans","titleColor":"black","grid":false,"labelFlush":false,"labelOverlap":false,"labelPadding":2},
 "title":{"font":"Liberation Sans","fontSize":18,"fontWeight":"bold","anchor":"start","frame":"group","color":"black"}
}
}
